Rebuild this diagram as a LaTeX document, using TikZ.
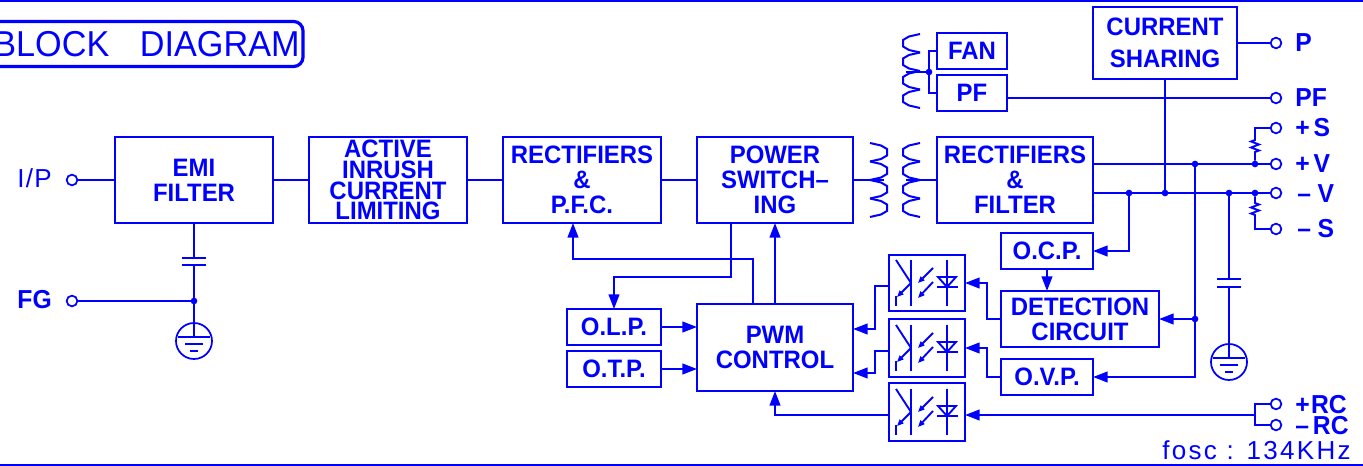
\documentclass[tikz,border=0pt]{standalone}
\usepackage{fontspec}
\setmainfont[FakeStretch=.95]{Liberation Sans}
\newfontfamily\widefont[LetterSpace=9]{Liberation Sans}
\usetikzlibrary{positioning,arrows.meta,calc}
\def\px{.75pt}
\tikzset{
	blk/.style 2 args={draw,line width=1.6pt,inner sep=0,outer sep=0,minimum width=#1*\px,minimum height=#2*\px,align=center,font=\bfseries\fontsize{18.9}{18.75}\selectfont},
	wire/.style={line width=1.6pt},
	arr/.style={wire,-{Triangle[length=11pt,width=8pt]}},
	term/.style={circle,draw,line width=1.3pt,inner sep=0,outer sep=0,minimum size=8pt},
	dot/.style={circle,fill,inner sep=0,outer sep=0,minimum size=5pt},
	lab/.style={inner sep=0,font=\bfseries\fontsize{19.5}{18.75}\selectfont},
	earth/.style={circle,draw,line width=1.3pt,inner sep=0,outer sep=0,minimum size=27pt},
}
\newcommand{\coil}[3]{%
	\foreach \k in {0,...,3}{
		\pgfmathsetmacro\yk{#3+\k*18.5}
		\draw[line width=1.5pt] (#1,\yk) -- ({#1+#2*11},{\yk+2.5}) -- ({#1+#2*17},{\yk+6}) -- ({#1+#2*17},{\yk+12.5}) -- ({#1+#2*11},{\yk+16}) -- (#1,{\yk+18.5});
	}
}
\begin{document}
\begin{tikzpicture}[blue,x=.75pt,y=-.75pt]
	\useasboundingbox (0,0) rectangle (1363,466);
	\draw[line width=1.8pt] (0,1) -- (1363,1);
	\draw[line width=1.8pt] (0,465) -- (1363,465);

	%title
	\node[draw,line width=2.4pt,rounded corners=7pt,inner sep=0,minimum width=313*\px,minimum height=45*\px,font=\fontsize{27}{27}\selectfont] (title) at (146.5,44) {BLOCK\hspace{23pt}DIAGRAM};

	%top row
	\node[blk={158}{86}] (emi) at (194,180) {EMI\\FILTER};
	\node[blk={158}{86},font=\bfseries\fontsize{18.9}{15.5}\selectfont] (inrush) at (388,180) {ACTIVE\\INRUSH\\CURRENT\\LIMITING};
	\node[blk={158}{86}] (rectpfc) at (582,180) {RECTIFIERS\\\&\\P.F.C.};
	\node[blk={156}{86}] (power) at (775,180) {POWER\\SWITCH--\\ING};
	\node[blk={156}{86}] (rectf) at (1015,180) {RECTIFIERS\\\&\\FILTER};
	\node[blk={70}{36}] (fan) at (972,51) {FAN};
	\node[blk={70}{36}] (pf) at (972,93) {PF};
	\node[blk={144}{72},font=\bfseries\fontsize{18.9}{24}\selectfont] (share) at (1165,43) {CURRENT\\SHARING};

	%control part
	\node[blk={156}{87}] (pwm) at (775,347.5) {PWM\\CONTROL};
	\node[blk={94}{36}] (olp) at (614,327) {O.L.P.};
	\node[blk={94}{36}] (otp) at (614,369) {O.T.P.};
	\node[blk={92}{36}] (ocp) at (1047,251) {O.C.P.};
	\node[blk={158}{56}] (detect) at (1080,319) {DETECTION\\CIRCUIT};
	\node[blk={92}{36}] (ovp) at (1047,377) {O.V.P.};
	\node[blk={76}{56}] (opto1) at (927,283) {};
	\node[blk={76}{58}] (opto2) at (927,348) {};
	\node[blk={76}{58}] (opto3) at (927,412) {};

	%photocouplers
	\foreach \o in {opto1,opto2,opto3}{
		\begin{scope}[shift={(\o.center)},line width=1.4pt]
			\draw (-16,-23) -- (-16,23);
			\draw (-31,-23) -- (-16,0);
			\draw[-{Triangle[length=5pt,width=4pt]}] (-16,0) -- (-30,14);
			\draw (-31,13) -- (-31,23);
			\draw[-{Triangle[length=5pt,width=4pt]}] (6,-15) -- (-9,0);
			\draw[-{Triangle[length=5pt,width=4pt]}] (6,-1) -- (-9,15);
			\draw (20,-23) -- (20,23);
			\draw (11,-6) -- (29,-6) -- (20,4) -- cycle;
			\draw (10,4) -- (31,4);
		\end{scope}
	}

	%terminals
	\node[term] (tin) at (72,180) {};
	\node[term] (tfg) at (72,301) {};
	\node[term] (tp) at (1276,43) {};
	\node[term] (tpf) at (1276,98) {};
	\node[term] (tps) at (1276,128) {};
	\node[term] (tpv) at (1276,164) {};
	\node[term] (tmv) at (1276,193) {};
	\node[term] (tms) at (1276,229) {};
	\node[term] (tprc) at (1276,404) {};
	\node[term] (tmrc) at (1276,425) {};

	\node[lab,anchor=base east] (lin) at (52,188) {\mdseries\widefont I\hspace{1pt}/\hspace{1pt}P};
	\node[lab,anchor=base east] (lfg) at (52,309) {FG};
	\node[lab,anchor=base west] (lp) at (1295,52) {P};
	\node[lab,anchor=base west] (lpf) at (1295,107) {PF};
	\node[lab,anchor=base west] (lps) at (1295,137) {+\hspace{3pt}S};
	\node[lab,anchor=base west] (lpv) at (1295,173) {+\hspace{3pt}V};
	\node[lab,anchor=base west] (lmv) at (1297,203) {--\hspace{5pt}V};
	\node[lab,anchor=base west] (lms) at (1297,238) {--\hspace{5pt}S};
	\node[lab,anchor=base west] (lprc) at (1295,413) {+\hspace{1pt}RC};
	\node[lab,anchor=base west] (lmrc) at (1295,434) {--\hspace{3pt}RC};
	\node[lab,anchor=base east] (lfosc) at (1351,459) {\mdseries\widefont fosc : 134KHz};

	%main path
	\draw[wire] (tin) -- (emi);
	\draw[wire] (emi) -- (inrush);
	\draw[wire] (inrush) -- (rectpfc);
	\draw[wire] (rectpfc) -- (power);

	%transformers
	\coil{870}{1}{143}
	\coil{920}{-1}{143}
	\coil{920}{-1}{34}
	\coordinate (pritap) at (884,180);
	\coordinate (sectap) at (906,180);
	\coordinate (fantap) at (906,72);
	\draw[wire] (power) -- (pritap);
	\draw[wire] (sectap) -- (rectf);
	\node[dot] (dfan) at (929,72) {};
	\draw[wire] (fantap) -- (dfan);
	\draw[wire] (fan) -| (dfan);
	\draw[wire] (pf) -| (dfan);

	%outputs
	\node[dot] (docv) at (1195,164) {};
	\node[dot] (dps) at (1255,164) {};
	\node[dot] (docp) at (1129,193) {};
	\node[dot] (dshare) at (1165,193) {};
	\node[dot] (dcap) at (1229,193) {};
	\node[dot] (dms) at (1255,193) {};
	\node[dot] (ddet) at (docv |- detect.east) {};
	\draw[wire] ([yshift=12pt]rectf.east) -- (docv) -- (dps) -- (tpv);
	\draw[wire] ([yshift=-9.75pt]rectf.east) -- (docp) -- (dshare) -- (dcap) -- (dms) -- (tmv);
	\draw[wire] (share) -- (tp);
	\draw[wire] (share) -- (dshare);
	\draw[wire] ([yshift=-5*\px]pf.east) -- (tpf);
	\draw[line width=1.4pt] (dps) -- ++(0,-12) -- ++(4,-1.5) -- ++(-8,-3) -- ++(8,-3) -- ++(-8,-3) -- ++(4,-1.5) |- (tps);
	\draw[line width=1.4pt] (dms) -- ++(0,10) -- ++(4,1.5) -- ++(-8,3) -- ++(8,3) -- ++(-8,3) -- ++(4,1.5) |- (tms);

	%feedback
	\draw[arr] (docp) |- (ocp);
	\draw[arr] (docv) |- (ovp);
	\draw[arr] (ddet) -- (detect);
	\draw[arr] (ocp) -- (ocp |- detect.north);
	\draw[arr] (detect) -- ++(-93,0) |- (opto1);
	\draw[arr] (ovp) -- ++(-60,0) |- (opto2);
	\draw[arr] ([yshift=-3*\px]opto1.west) -- ++(-14,0) |- ([yshift=18.5*\px]pwm.east);
	\draw[arr] ([yshift=-3*\px]opto2.west) -- ++(-14,0) |- ([yshift=-25.5*\px]pwm.east);
	\draw[arr] ([yshift=-3*\px]opto3.west) -| (pwm);
	\draw[arr] (pwm) -- (power);
	\draw[arr] ([xshift=-22*\px]pwm.north) -- ++(0,-45) -| ([xshift=-9*\px]rectpfc.south);
	\draw[arr] ([xshift=-44*\px]power.south) -- ++(0,54) -| (olp);
	\draw[arr] (olp) -- (olp -| pwm.west);
	\draw[arr] (otp) -- (otp -| pwm.west);
	\coordinate (rcjoin) at (1255,415);
	\draw[wire] (tprc) -| (rcjoin);
	\draw[wire] (tmrc) -| (rcjoin);
	\draw[arr] (rcjoin) -- (rcjoin -| opto3.east);

	%capacitors and earth
	\node[dot] (dfg) at (194,301) {};
	\node[earth] (gnda) at (194,341) {};
	\node[earth] (gndb) at (1229,362) {};
	\coordinate (capat) at (194,258);
	\coordinate (capab) at (194,265);
	\coordinate (capbt) at (1229,279);
	\coordinate (capbb) at (1229,287);
	\draw[wire] (emi) -- (capat);
	\draw[wire] (capab) -- (dfg) -- ($(gnda)+(0,-4)$);
	\draw[wire] (tfg) -- (dfg);
	\draw[wire] (dcap) -- (capbt);
	\draw[wire] (capbb) -- ($(gndb)+(0,-4)$);
	\foreach \c in {capat,capab,capbt,capbb}{
		\draw[wire] (\c) ++(-12,0) -- ++(24,0);
	}
	\foreach \g in {gnda,gndb}{
		\draw[line width=1.4pt] (\g) ++(-16,-4) -- ++(32,0);
		\draw[line width=1.4pt] (\g) ++(-9,3) -- ++(18,0);
		\draw[line width=1.4pt] (\g) ++(-4,10) -- ++(8,0);
	}
\end{tikzpicture}
\end{document}
